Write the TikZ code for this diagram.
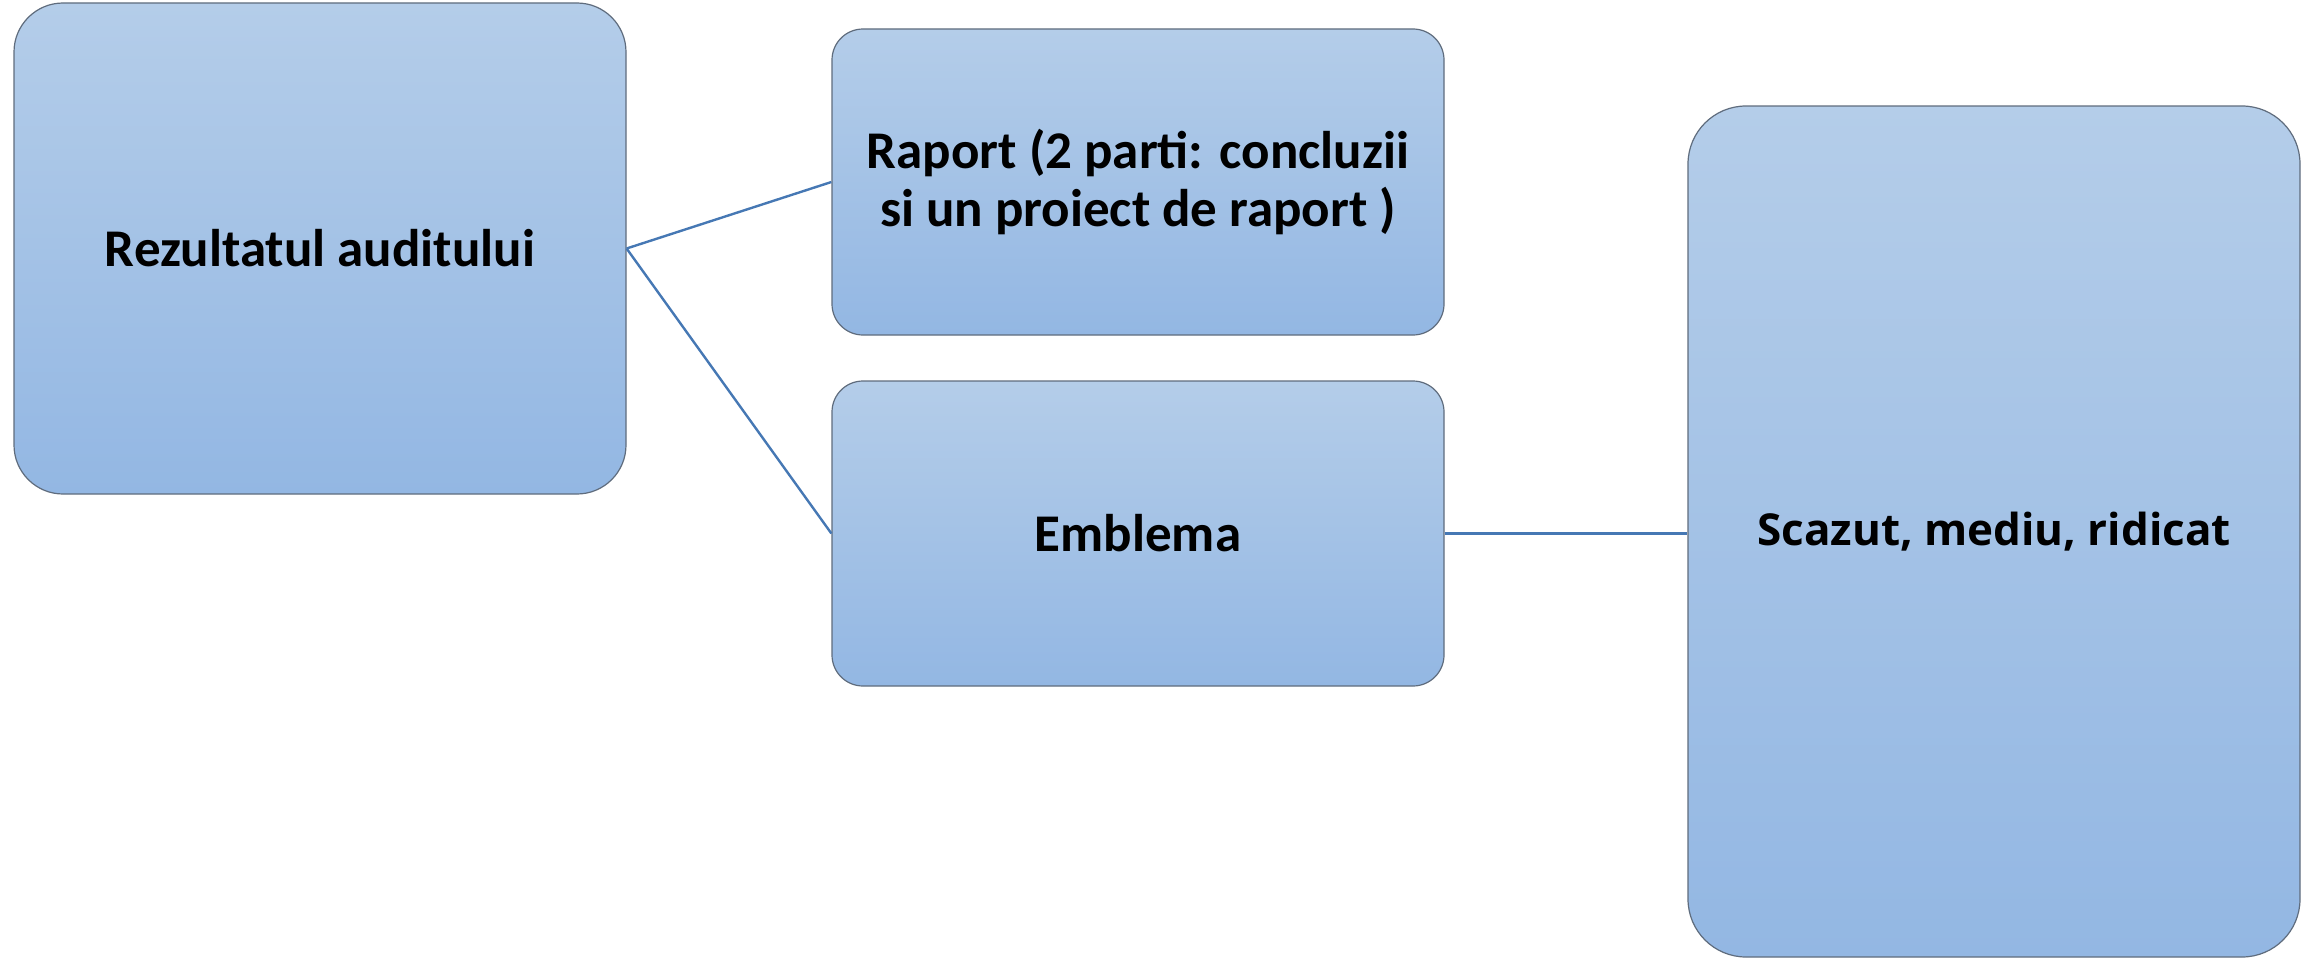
\documentclass[tikz,border=0pt]{standalone}
\usepackage{fontspec}
\setmainfont{Carlito}
\newfontfamily\segoe{Open Sans}
\definecolor{boxtop}{RGB}{180,205,233}
\definecolor{boxbot}{RGB}{147,183,227}
\definecolor{boxline}{RGB}{95,108,125}
\definecolor{conn}{RGB}{70,120,180}
\tikzset{
  box/.style={draw=boxline, line width=1.2pt, top color=boxtop, bottom color=boxbot,
    rectangle, inner sep=0pt, align=center, anchor=center,
    font=\bfseries\fontsize{53}{58}\selectfont},
  link/.style={draw=conn, line width=2.4pt}
}
\begin{document}
\begin{tikzpicture}[x=1pt,y=-1pt]
\useasboundingbox (0,0) rectangle (2313,958);
\node[box, minimum width=612pt, minimum height=491pt, rounded corners=49pt] (A) at (320,248.5) {Rezultatul auditului};
\node[box, minimum width=612pt, minimum height=306pt, rounded corners=31pt] (B) at (1138,182) {Raport (2 parti: concluzii\\si un proiect de raport )};
\node[box, minimum width=612pt, minimum height=305pt, rounded corners=31pt] (C) at (1138,533.5) {Emblema};
\node[box, minimum width=612pt, minimum height=851pt, rounded corners=58pt, font=\segoe\bfseries\fontsize{44}{52}\selectfont] (D) at (1994,531.5) {Scazut, mediu, ridicat};
\draw[link] (A.east) -- (B.west);
\draw[link] (A.east) -- (C.west);
\draw[link] (C.east) -- (D.west |- C.east);
\end{tikzpicture}
\end{document}
